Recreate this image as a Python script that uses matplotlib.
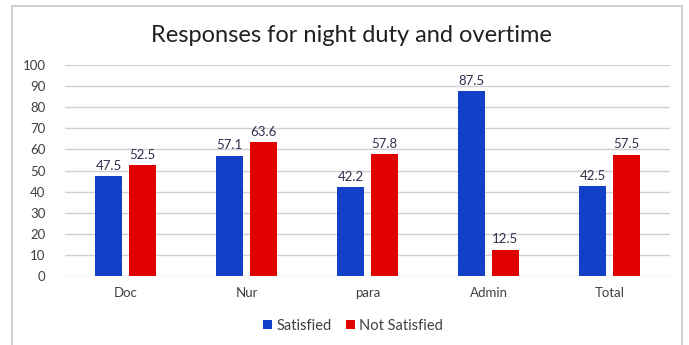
import numpy as np
import matplotlib.pyplot as plt
import matplotlib.patches as patches

categories = ['Doc', 'Nur', 'para', 'Admin', 'Total']
satisfied = [47.5, 57.1, 42.2, 87.5, 42.5]
not_satisfied = [52.5, 63.6, 57.8, 12.5, 57.5]

blue = '#1240c8'
red = '#e00000'
text_col = '#404040'

plt.rcParams['font.family'] = ['Lato', 'DejaVu Sans']

fig = plt.figure(figsize=(6.89, 3.45), dpi=100)
fig.patch.set_facecolor('white')

# outer chart frame
frame = patches.Rectangle((12 / 689, -0.05), 670 / 689, 1 - 6 / 345 + 0.05,
                          transform=fig.transFigure, fill=False,
                          edgecolor='#c8c8c8', linewidth=1.2)
fig.patches.append(frame)

ax = fig.add_axes([65 / 689, 1 - 276 / 345, 605 / 689, 211 / 345])

x = np.arange(len(categories))
w = 0.22
gap = 0.03
b1 = ax.bar(x - w / 2 - gap, satisfied, w, color=blue, label='Satisfied', zorder=3)
b2 = ax.bar(x + w / 2 + gap, not_satisfied, w, color=red, label='Not Satisfied', zorder=3)

for bars in (b1, b2):
    for rect in bars:
        h = rect.get_height()
        ax.text(rect.get_x() + rect.get_width() / 2, h + 2, f'{h:.1f}',
                ha='center', va='bottom', fontsize=9.5, color='#303050')

ax.set_xlim(-0.5, len(categories) - 0.5)
ax.set_ylim(0, 100)
ax.set_yticks(range(0, 101, 10))
ax.set_xticks(x)
ax.set_xticklabels(categories)
ax.tick_params(axis='both', length=0, labelsize=9.5, colors=text_col)
ax.tick_params(axis='x', pad=8)
ax.tick_params(axis='y', pad=14)
ax.grid(axis='y', color='#d0d0d0', linewidth=1, zorder=0)
for s in ax.spines.values():
    s.set_visible(False)

fig.text(351 / 689, 1 - 35 / 345, 'Responses for night duty and overtime',
         ha='center', va='center', fontsize=17, color='#202020')

fig.legend(handles=[b1, b2], loc='center', bbox_to_anchor=(353 / 689, 1 - 326 / 345),
           ncol=2, frameon=False, fontsize=10.5, handlelength=0.6, handleheight=0.6,
           handletextpad=0.3, columnspacing=1.0, labelcolor=text_col)

fig.savefig('out.png', dpi=100)
